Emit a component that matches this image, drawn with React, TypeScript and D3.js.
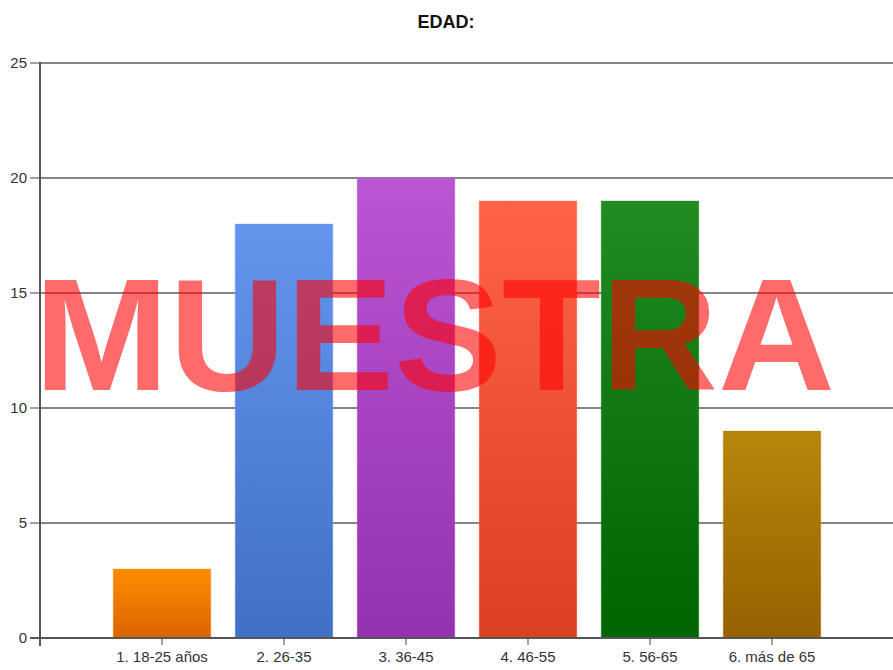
import * as d3 from "d3";

const categories = [
  "1. 18-25 años",
  "2. 26-35",
  "3. 36-45",
  "4. 46-55",
  "5. 56-65",
  "6. más de 65",
];
const values = [3, 18, 20, 19, 19, 9];
const yTicks = [0, 5, 10, 15, 20, 25];
// gradient top / bottom per bar
const topColors = ["#ff8c00", "#6495ed", "#ba55d3", "#ff6347", "#228b22", "#b8860b"];
const bottomColors = ["#dc6300", "#4170c6", "#9532b0", "#dc4022", "#006400", "#966100"];

const width = 893;
const height = 670;
const margin = { top: 63, right: 0, bottom: 32, left: 40 };
const font = "Liberation Sans, Arial, sans-serif";

const App = () => {
  const x = d3
    .scaleLinear()
    .domain([0, categories.length + 1])
    .range([margin.left, width + 1]);
  const y = d3
    .scaleLinear()
    .domain([0, 25])
    .range([height - margin.bottom, margin.top]);
  const step = x(1) - x(0);
  const barW = step * 0.8;

  return (
    <svg
      width={width}
      height={height}
      style={{ position: "absolute", left: 0, top: 0, background: "#fff" }}
    >
      <defs>
        {categories.map((c, i) => (
          <linearGradient key={c} id={`g${i}`} x1="0" y1="0" x2="0" y2="1">
            <stop offset="0%" stopColor={topColors[i]} />
            <stop offset="100%" stopColor={bottomColors[i]} />
          </linearGradient>
        ))}
      </defs>

      <text
        x={446}
        y={28}
        textAnchor="middle"
        fontFamily={font}
        fontWeight="bold"
        fontSize={18}
        fill="#111"
      >
        EDAD:
      </text>

      {/* grid lines and y ticks */}
      {yTicks.map((t) => (
        <g key={t}>
          {t > 0 && (
            <line
              x1={margin.left}
              x2={width}
              y1={y(t)}
              y2={y(t)}
              stroke="#858585"
              strokeWidth={2}
            />
          )}
          <line x1={margin.left - 10} x2={margin.left} y1={y(t)} y2={y(t)} stroke="#444" />
          <text
            x={margin.left - 13}
            y={y(t)}
            dy="0.35em"
            textAnchor="end"
            fontFamily={font}
            fontSize={15}
            fill="#333"
          >
            {t}
          </text>
        </g>
      ))}

      {/* bars */}
      {values.map((v, i) => (
        <rect
          key={i}
          x={x(i + 1) - barW / 2}
          y={y(v)}
          width={barW}
          height={y(0) - y(v)}
          fill={`url(#g${i})`}
          stroke={topColors[i]}
          strokeOpacity={0.35}
        />
      ))}

      {/* axes */}
      <line
        x1={margin.left}
        x2={margin.left}
        y1={y(25) - 1}
        y2={y(0) + 8}
        stroke="#555"
        strokeWidth={2}
      />
      <line
        x1={margin.left - 10}
        x2={width}
        y1={y(0)}
        y2={y(0)}
        stroke="#555"
        strokeWidth={2}
      />
      {categories.map((c, i) => (
        <g key={c}>
          <line x1={x(i + 1)} x2={x(i + 1)} y1={y(0)} y2={y(0) + 7} stroke="#444" />
          <text
            x={x(i + 1)}
            y={y(0) + 24}
            textAnchor="middle"
            fontFamily={font}
            fontSize={15}
            fill="#333"
          >
            {c}
          </text>
        </g>
      ))}

      {/* watermark */}
      <text
        x={34}
        y={390}
        fontFamily={font}
        fontWeight="bold"
        fontSize={160}
        textLength={801}
        lengthAdjust="spacingAndGlyphs"
        fill="#ff0000"
        fillOpacity={0.58}
      >
        MUESTRA
      </text>
    </svg>
  );
};

export default App;
